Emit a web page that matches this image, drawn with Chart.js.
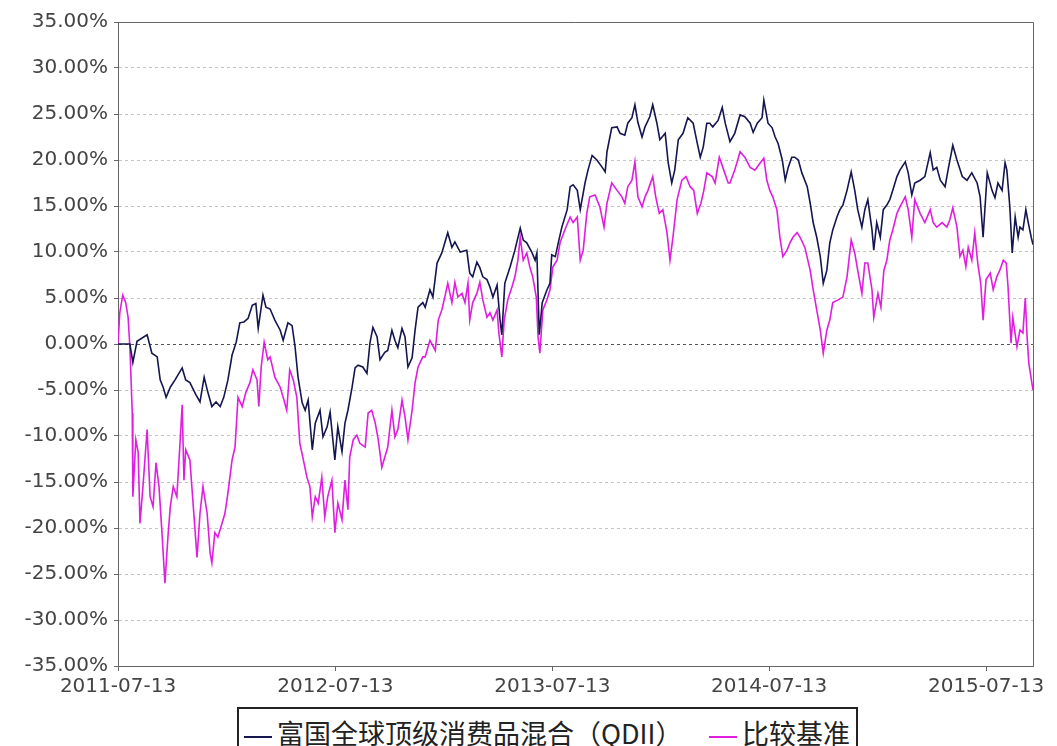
<!DOCTYPE html>
<html>
<head>
<meta charset="utf-8">
<script src="https://cdn.jsdelivr.net/npm/chart.js@4/dist/chart.umd.min.js"></script>
<style>
  html, body { margin: 0; padding: 0; background: #fff; overflow: hidden; }
  #wrap { position: relative; width: 1090px; height: 700px; }
  #legend { position: absolute; left: 237px; top: 707px; width: 617px; height: 52px; border: 2px solid #222;
    font-family: "Noto Sans CJK SC", sans-serif; font-size: 27px; color: #222; white-space: nowrap; }
  #legend .item { position: absolute; top: 6px; line-height: 36px; }
  #legend .mark { display: inline-block; width: 28px; height: 2px; vertical-align: middle; margin-right: 5px; }
</style>
</head>
<body>
<div id="wrap"><canvas id="chart"></canvas></div>
<div id="legend"></div>
<script>
// days since 2011-07-13
const tickDays = [0, 366, 731, 1096, 1461];
const tickLabels = ["2011-07-13", "2012-07-13", "2013-07-13", "2014-07-13", "2015-07-13"];
const yTicks = [-35, -30, -25, -20, -15, -10, -5, 0, 5, 10, 15, 20, 25, 30, 35];

const fundName = "富国全球顶级消费品混合（QDII）";
const benchName = "比较基准";

const fundDays = [0, 20, 25, 32, 49, 57, 66, 71, 76, 81, 88, 96, 108, 114, 121, 131, 138, 145, 151, 158,
  165, 172, 178, 185, 192, 199, 205, 212, 219, 226, 232, 236, 244, 249, 256, 264, 273, 278, 286, 293,
  298, 303, 310, 315, 320, 327, 332, 340, 345, 352, 357, 365, 370, 377, 382, 387, 394, 399, 404, 412,
  419, 424, 429, 436, 441, 449, 454, 461, 466, 471, 478, 483, 488, 495, 500, 505, 513, 517, 525, 530,
  537, 545, 555, 562, 567, 576, 587, 592, 597, 604, 609, 614, 621, 626, 631, 638, 643, 646, 651, 660,
  668, 677, 682, 688, 697, 702, 705, 709, 714, 722, 727, 730, 736, 741, 747, 756, 761, 766, 773, 778,
  786, 791, 798, 806, 815, 820, 823, 831, 840, 845, 853, 858, 865, 870, 875, 882, 887, 895, 900, 907,
  912, 921, 926, 932, 937, 943, 951, 959, 968, 975, 980, 985, 991, 996, 1001, 1010, 1017, 1022, 1030, 1038,
  1047, 1055, 1064, 1069, 1076, 1084, 1087, 1094, 1101, 1106, 1111, 1118, 1123, 1128, 1134, 1139, 1145, 1151, 1160, 1165,
  1170, 1176, 1182, 1187, 1193, 1198, 1203, 1210, 1215, 1220, 1227, 1234, 1240, 1245, 1252, 1257, 1262, 1269, 1272, 1277,
  1283, 1288, 1294, 1299, 1304, 1311, 1316, 1325, 1330, 1336, 1341, 1350, 1358, 1367, 1372, 1378, 1384, 1392, 1397, 1405,
  1412, 1421, 1429, 1437, 1446, 1451, 1456, 1463, 1471, 1476, 1481, 1488, 1493, 1496, 1501, 1505, 1510, 1515, 1518, 1523,
  1528, 1532, 1537, 1540];
const fundValues = [0.0, 0.0, -2.0, 0.3, 1.0, -1.0, -1.4, -3.9, -4.7, -5.8, -4.7, -3.9, -2.6, -3.9, -4.2, -5.5, -6.3, -3.6, -5.2, -6.8,
  -6.3, -6.8, -5.8, -3.9, -1.2, 0.2, 2.3, 2.4, 2.8, 4.2, 4.4, 1.7, 5.3, 4.0, 3.8, 2.6, 1.5, 0.4, 2.3, 2.0,
  -0.3, -3.6, -6.4, -7.2, -6.1, -11.5, -8.6, -7.2, -10.1, -9.0, -7.4, -12.6, -9.0, -11.7, -8.6, -7.2, -4.7, -2.6, -2.3, -2.5,
  -3.2, 0.1, 1.8, 0.8, -1.7, -0.9, -0.7, 1.5, 0.4, -0.4, 1.7, 0.8, -2.5, -1.5, 1.5, 4.0, 4.5, 4.0, 5.9, 5.1,
  8.8, 9.9, 12.1, 10.5, 11.1, 10.0, 10.2, 7.7, 7.3, 8.9, 8.3, 7.3, 7.0, 6.2, 5.1, 6.4, 2.6, 1.0, 6.6, 8.4,
  10.2, 12.6, 11.3, 11.0, 9.9, 9.1, 9.9, 1.0, 4.5, 5.9, 6.6, 9.7, 9.5, 11.0, 12.7, 14.6, 17.1, 17.3, 16.7, 14.6,
  17.5, 18.9, 20.5, 20.0, 19.2, 18.7, 20.9, 23.5, 23.6, 22.9, 22.7, 24.0, 24.6, 26.0, 24.1, 22.5, 23.6, 24.7, 26.0, 24.0,
  22.2, 22.9, 19.7, 17.5, 18.9, 22.2, 22.9, 24.6, 24.0, 21.8, 20.3, 21.4, 24.0, 24.0, 23.6, 24.3, 25.7, 24.0, 22.0, 22.9,
  24.9, 24.7, 24.0, 23.0, 24.0, 24.6, 26.5, 24.0, 23.5, 22.5, 21.8, 20.0, 17.8, 19.2, 20.3, 20.3, 20.0, 18.6, 17.1, 15.3,
  13.2, 11.6, 9.5, 6.6, 8.0, 11.0, 12.4, 13.8, 14.6, 15.1, 16.7, 18.7, 16.7, 14.6, 12.7, 14.6, 15.7, 12.4, 10.2, 13.2,
  11.6, 14.6, 15.1, 15.7, 16.7, 18.2, 18.9, 19.8, 18.6, 16.2, 17.5, 17.8, 18.2, 20.8, 18.9, 19.2, 17.8, 17.1, 18.9, 21.6,
  20.0, 18.2, 17.8, 18.6, 17.5, 16.0, 11.6, 18.6, 16.7, 15.9, 17.5, 16.7, 19.7, 18.9, 14.9, 9.9, 13.8, 11.6, 12.7, 12.4,
  14.6, 13.2, 11.6, 10.8];

const benchDays = [0, 3, 8, 13, 17, 20, 24, 25, 30, 34, 37, 42, 49, 54, 59, 64, 69, 74, 79, 84,
  88, 93, 99, 104, 108, 111, 114, 121, 126, 133, 138, 143, 150, 155, 158, 163, 168, 175, 180, 185,
  192, 197, 202, 209, 215, 222, 227, 234, 237, 241, 246, 252, 256, 264, 273, 278, 284, 289, 295, 301,
  306, 311, 318, 323, 327, 332, 337, 343, 348, 353, 360, 365, 370, 377, 382, 387, 390, 396, 402, 407,
  416, 421, 427, 433, 438, 444, 449, 454, 461, 466, 471, 478, 483, 488, 495, 500, 505, 513, 517, 525,
  534, 539, 545, 550, 555, 562, 567, 572, 579, 584, 589, 592, 597, 604, 609, 614, 621, 626, 631, 638,
  641, 646, 650, 656, 663, 668, 673, 677, 682, 688, 693, 698, 704, 707, 710, 715, 722, 727, 732, 739,
  744, 752, 761, 766, 773, 778, 783, 789, 794, 803, 811, 818, 823, 831, 840, 848, 853, 858, 865, 870,
  875, 882, 887, 892, 900, 905, 911, 917, 924, 929, 934, 941, 949, 956, 963, 969, 975, 981, 986, 991,
  1000, 1005, 1012, 1018, 1027, 1030, 1038, 1047, 1055, 1064, 1072, 1081, 1087, 1092, 1097, 1102, 1109, 1114, 1119, 1126,
  1131, 1136, 1143, 1148, 1156, 1165, 1170, 1176, 1182, 1187, 1193, 1198, 1203, 1212, 1220, 1227, 1234, 1240, 1245, 1252,
  1257, 1262, 1269, 1272, 1279, 1284, 1289, 1294, 1299, 1304, 1311, 1316, 1325, 1330, 1336, 1341, 1350, 1358, 1367, 1372,
  1378, 1387, 1395, 1400, 1405, 1412, 1417, 1422, 1427, 1431, 1437, 1442, 1447, 1452, 1456, 1461, 1468, 1473, 1479, 1484,
  1490, 1495, 1498, 1503, 1506, 1513, 1518, 1523, 1527, 1530, 1533, 1538, 1540];
const benchValues = [0.0, 3.4, 5.3, 4.5, 2.9, -0.3, -7.5, -16.6, -10.4, -11.8, -19.5, -15.5, -9.3, -16.6, -17.7, -12.9, -15.5, -20.5, -26.0, -21.0,
  -17.7, -15.5, -16.6, -11.2, -6.6, -14.8, -11.5, -12.6, -17.0, -23.2, -18.4, -15.5, -18.4, -22.7, -23.8, -20.5, -21.0, -19.5, -18.4, -16.2,
  -12.6, -11.2, -5.8, -6.8, -5.3, -4.2, -2.8, -3.9, -6.8, -2.5, 0.2, -1.7, -1.4, -3.6, -4.7, -5.8, -7.2, -2.8, -3.9, -5.8,
  -10.8, -12.3, -14.5, -15.5, -18.8, -16.6, -17.3, -14.5, -18.8, -16.6, -14.8, -20.5, -17.3, -19.1, -14.8, -18.0, -12.3, -10.4, -9.9, -10.8,
  -11.2, -7.5, -7.2, -8.6, -10.4, -13.4, -12.3, -11.2, -7.2, -10.1, -9.3, -6.1, -7.9, -10.4, -7.2, -4.2, -2.5, -1.4, -1.4, 0.4,
  -0.7, 2.6, 3.7, 5.1, 6.6, 4.5, 6.7, 5.1, 5.5, 4.5, 6.6, 2.6, 4.5, 5.5, 6.7, 4.8, 2.9, 3.4, 2.6, 3.7,
  1.2, -1.4, 2.6, 4.8, 6.2, 7.3, 9.1, 11.6, 9.1, 9.9, 8.4, 7.3, 5.1, 0.8, -1.0, 3.7, 4.8, 5.9, 8.4, 9.1,
  11.0, 12.4, 13.8, 13.2, 13.8, 9.1, 10.2, 14.2, 16.0, 16.2, 14.9, 12.7, 15.3, 17.5, 16.7, 16.0, 15.3, 17.1, 17.8, 19.8,
  16.0, 14.9, 16.0, 16.7, 18.2, 16.0, 14.2, 14.6, 12.1, 9.1, 11.6, 15.7, 17.8, 18.2, 17.1, 16.7, 14.2, 15.3, 16.7, 18.6,
  18.2, 17.5, 20.3, 19.2, 17.5, 17.5, 18.9, 20.9, 20.3, 19.2, 18.9, 19.7, 20.2, 17.8, 16.7, 16.0, 14.6, 11.6, 9.5, 10.2,
  11.0, 11.6, 12.1, 11.6, 10.5, 8.0, 5.9, 3.7, 1.5, -1.0, 1.5, 2.6, 4.5, 4.8, 5.1, 7.3, 11.3, 9.9, 8.0, 5.5,
  8.8, 8.8, 5.9, 2.9, 5.5, 4.0, 8.0, 9.1, 11.3, 12.4, 14.2, 14.9, 16.0, 14.6, 11.6, 15.7, 14.2, 13.2, 14.6, 13.2,
  12.7, 13.2, 12.7, 13.5, 14.8, 12.7, 9.5, 10.2, 8.4, 10.5, 9.1, 12.1, 8.8, 6.6, 2.6, 7.0, 7.7, 5.9, 7.3, 8.0,
  9.1, 8.8, 6.2, 0.1, 2.9, -0.3, 1.5, 1.2, 5.0, 0.8, -2.1, -4.2, -5.0];

const fundColor = "#15154f";
const benchColor = "#e01ee0";

const plotFrame = {
  id: "plotFrame",
  afterDraw(chart) {
    const { ctx, chartArea: a } = chart;
    ctx.save();
    ctx.strokeStyle = "#666";
    ctx.lineWidth = 1;
    ctx.beginPath();
    ctx.moveTo(a.left, a.top + 0.5);
    ctx.lineTo(a.right + 0.5, a.top + 0.5);
    ctx.lineTo(a.right + 0.5, a.bottom);
    ctx.stroke();
    ctx.restore();
  }
};

const datasets = [
  { label: fundName, data: fundDays.map((d, i) => ({ x: d, y: fundValues[i] })), borderColor: fundColor },
  { label: benchName, data: benchDays.map((d, i) => ({ x: d, y: benchValues[i] })), borderColor: benchColor }
];

new Chart(document.getElementById("chart"), {
  type: "line",
  data: {
    datasets: datasets.map(ds => Object.assign(ds, { borderWidth: 1.6, pointRadius: 0, tension: 0, fill: false }))
  },
  options: {
    responsive: true,
    maintainAspectRatio: false,
    animation: false,
    layout: { padding: { top: 22, right: 57, bottom: 4, left: 0 } },
    plugins: { legend: { display: false }, tooltip: { enabled: false } },
    scales: {
      x: {
        type: "linear",
        min: 0,
        max: 1540,
        afterBuildTicks: s => { s.ticks = tickDays.map(v => ({ value: v })); },
        afterFit: s => { s.height = 30; },
        ticks: {
          autoSkip: false,
          maxRotation: 0,
          padding: 4,
          color: "#444",
          font: { family: "DejaVu Sans", size: 20 },
          callback: v => tickLabels[tickDays.indexOf(v)]
        },
        grid: { drawOnChartArea: false, drawTicks: true, tickLength: 5, color: "#666" },
        border: { color: "#666", width: 1 }
      },
      y: {
        min: -35,
        max: 35,
        afterBuildTicks: s => { s.ticks = yTicks.map(v => ({ value: v })); },
        afterFit: s => { s.width = 118; },
        ticks: {
          padding: 6,
          color: "#444",
          font: { family: "DejaVu Sans", size: 20 },
          callback: v => v.toFixed(2) + "%"
        },
        grid: {
          color: c => (c.tick && c.tick.value === 0 ? "#555" : "#c4c4c4"),
          tickColor: "#666",
          tickLength: 4,
          lineWidth: 1
        },
        border: { color: "#666", width: 1, dash: [3, 3] }
      }
    }
  },
  plugins: [plotFrame]
});

// legend box under the plot, as in the original
const legend = document.getElementById("legend");
const legendX = [5, 470];
datasets.forEach((ds, i) => {
  const item = document.createElement("span");
  item.className = "item";
  item.style.left = legendX[i] + "px";
  item.innerHTML = `<span class="mark" style="background:${ds.borderColor}"></span>${ds.label}`;
  legend.appendChild(item);
});
</script>
</body>
</html>
